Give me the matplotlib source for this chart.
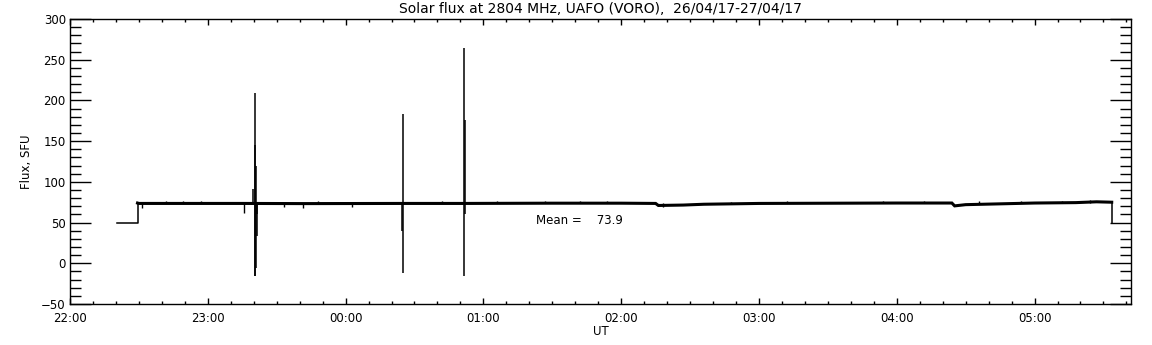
"""
Solar flux at 2804 MHz, UAFO (VORO) - 26/04/17-27/04/17
"""
import matplotlib
matplotlib.use("Agg")
import matplotlib.pyplot as plt
from matplotlib.ticker import MultipleLocator, FuncFormatter

# time in hours after 22:00 UT, flux in SFU
# calibration steps at the start and end of the record
start_t = [0.34, 0.49, 0.49]
start_f = [50, 50, 74]
end_t = [7.56, 7.56]
end_f = [75, 50]

# quiet-sun level in between
base_t = [0.49, 0.50, 1.00, 1.25, 1.70, 2.40, 2.86, 3.50,
          4.00, 4.25, 4.27, 4.45, 4.60, 5.00, 5.60, 6.00, 6.40, 6.42,
          6.50, 7.00, 7.30, 7.45, 7.56]
base_f = [74, 73.5, 73.5, 73.5, 73.3, 73.5, 73.5, 73.8,
          73.8, 73.5, 71.0, 71.5, 72.5, 73.5, 73.8, 74.0, 74.0, 70.5,
          72.0, 74.0, 74.5, 75.5, 75.0]

# big spikes (time, low, high)
spike_t = [1.328, 1.342, 1.346, 1.350, 1.355, 1.360, 2.406, 2.415, 2.860, 2.865]
spike_lo = [73, -15, -15, -6, 33, 60, 40, -12, -16, 60]
spike_hi = [91, 145, 209, 120, 73, 73, 73, 183, 264, 176]

# small glitches on the baseline (time, value)
glitch_t = [0.52, 0.60, 0.70, 0.82, 0.95, 1.263, 1.55, 1.69, 1.80, 2.05,
            2.20, 2.55, 2.70, 3.10, 3.30, 3.45, 3.70, 3.90, 4.30, 4.80,
            5.20, 5.50, 5.90, 6.20, 6.60, 6.90, 7.20, 7.40]
glitch_f = [68, 75.5, 76, 76, 76.5, 62, 69, 68, 76, 69.5,
            75.5, 75.5, 76, 76, 75.5, 76.5, 76, 76, 69, 75.5,
            76, 75.5, 76, 76, 76.5, 76, 77, 77.5]

mean_flux = 73.9

fig = plt.figure(figsize=(11.52, 3.45), dpi=100)
ax = fig.add_axes([70 / 1152, 1 - 304 / 345, 1061 / 1152, 285 / 345])

ax.plot(start_t, start_f, color='black', lw=1.1)
ax.plot(end_t, end_f, color='black', lw=1.1)
ax.plot(base_t, base_f, color='black', lw=2.2, solid_joinstyle='miter')
ax.vlines(spike_t, spike_lo, spike_hi, color='black', lw=1.1)
ax.vlines(glitch_t, 73.5, glitch_f, color='black', lw=1.0)

ax.text(3.38, 53, f"Mean =    {mean_flux:.1f}", fontsize=8.5, va='center')

ax.set_xlim(0, 7.70)
ax.set_ylim(-50, 300)
ax.xaxis.set_major_locator(MultipleLocator(1))
ax.xaxis.set_minor_locator(MultipleLocator(1 / 6))
ax.yaxis.set_major_locator(MultipleLocator(50))
ax.yaxis.set_minor_locator(MultipleLocator(10))
ax.xaxis.set_major_formatter(FuncFormatter(lambda h, p: f"{int(round(22 + h)) % 24:02d}:00"))

ax.tick_params(axis='both', which='both', direction='in', top=True, right=True,
               labelsize=8.5, width=1.0)
ax.tick_params(axis='x', which='major', length=4.2, pad=6)
ax.tick_params(axis='x', which='minor', length=2.1)
ax.tick_params(axis='y', which='major', length=15.3, pad=3)
ax.tick_params(axis='y', which='minor', length=7.6)
for s in ax.spines.values():
    s.set_linewidth(1.0)

ax.set_title("Solar flux at 2804 MHz, UAFO (VORO),  26/04/17-27/04/17", fontsize=10, pad=4)
ax.set_ylabel("Flux, SFU", fontsize=8.5, labelpad=6)
ax.set_xlabel("UT", fontsize=8.5, labelpad=0)

plt.savefig("out.png", dpi=100)
plt.close()
